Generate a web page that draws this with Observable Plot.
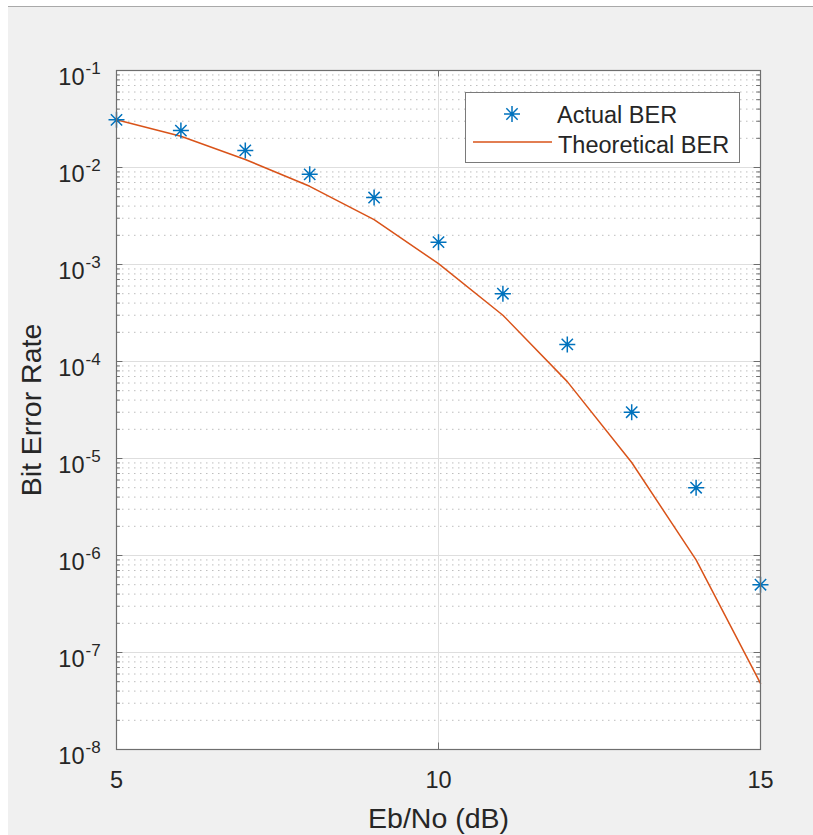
<!DOCTYPE html>
<html>
<head>
<meta charset="utf-8">
<script src="https://cdn.jsdelivr.net/npm/d3@7"></script>
<script src="https://cdn.jsdelivr.net/npm/@observablehq/plot@0.6"></script>
<style>
  html, body { margin: 0; padding: 0; background: #ffffff; width: 813px; height: 835px; overflow: hidden; }
  #bg { position: absolute; left: 8px; top: 6px; right: 0; bottom: 0; background: #f0f0f0; border-top: 1px solid #a9a9a9; }
  #chart { position: absolute; left: 0; top: 0; }
  #legend { position: absolute; left: 465px; top: 92px; }
  text { font-family: "Liberation Sans", Arial, Helvetica, sans-serif; }
</style>
</head>
<body>
<div id="bg"></div>
<div id="chart"></div>
<div id="legend"></div>
<script>
// ---- data ----
const ebno = [5, 6, 7, 8, 9, 10, 11, 12, 13, 14, 15];
const actualBER = [0.031, 0.024, 0.015, 0.0085, 0.0049, 0.0017, 5.0e-4, 1.5e-4, 3.0e-5, 5.0e-6, 5.0e-7];
const theoreticalBER = [0.031, 0.021, 0.0121, 0.0064, 0.0029, 1.02e-3, 3.0e-4, 6.2e-5, 9.1e-6, 9.0e-7, 4.8e-8];
const xTicks = [5, 10, 15];
const yExponents = [-8, -7, -6, -5, -4, -3, -2, -1];
const seriesNames = ["Actual BER", "Theoretical BER"];
const xLabel = "Eb/No (dB)";
const yLabel = "Bit Error Rate";

const blue = "#0072BD";
const orange = "#D95319";
const axisColor = "#6e6e6e";
const textColor = "#262626";
const font = '"Liberation Sans", Arial, Helvetica, sans-serif';

const decades = yExponents.map(e => Math.pow(10, e));
const minors = [];
for (const e of yExponents.slice(0, -1)) for (let k = 2; k <= 9; k++) minors.push(k * Math.pow(10, e));

const actualRows = ebno.map((x, i) => ({x, y: actualBER[i]}));
const theoRows = ebno.map((x, i) => ({x, y: theoreticalBER[i]}));

// MATLAB-style '*' marker (plus + cross)
const star8 = {
  draw(ctx, size) {
    const r = Math.sqrt(size / Math.PI);
    const d = r * Math.SQRT1_2;
    ctx.moveTo(-r, 0); ctx.lineTo(r, 0);
    ctx.moveTo(0, -r); ctx.lineTo(0, r);
    ctx.moveTo(-d, -d); ctx.lineTo(d, d);
    ctx.moveTo(-d, d); ctx.lineTo(d, -d);
  }
};

const xMin = 5, xMax = 15, yMin = 1e-8, yMax = 1e-1;
const majLen = 0.1, minLen = 0.06;           // tick lengths in x units
const xTickDec = 0.067;                       // x tick length in decades

const chart = Plot.plot({
  width: 813,
  height: 835,
  marginLeft: 116,
  marginRight: 53,
  marginTop: 70,
  marginBottom: 86,
  style: {background: "transparent", fontFamily: font, overflow: "visible"},
  x: {domain: [xMin, xMax], axis: null},
  y: {type: "log", domain: [yMin, yMax], axis: null},
  marks: [
    Plot.frame({fill: "white", stroke: "none"}),
    // minor dotted grid
    Plot.ruleY(minors, {y: d => d, stroke: "#bdbdbd", strokeWidth: 1, strokeDasharray: "1.5,4.5"}),
    // major grid
    Plot.ruleY(decades.slice(1, -1), {y: d => d, stroke: "#dedede", strokeWidth: 1}),
    Plot.ruleX(xTicks.slice(1, -1), {x: d => d, stroke: "#dedede", strokeWidth: 1}),
    // y ticks left/right (inward)
    Plot.ruleY(decades, {y: d => d, x1: xMin, x2: xMin + majLen, stroke: axisColor}),
    Plot.ruleY(decades, {y: d => d, x1: xMax - majLen, x2: xMax, stroke: axisColor}),
    Plot.ruleY(minors, {y: d => d, x1: xMin, x2: xMin + minLen, stroke: axisColor}),
    Plot.ruleY(minors, {y: d => d, x1: xMax - minLen, x2: xMax, stroke: axisColor}),
    // x ticks bottom/top (inward)
    Plot.ruleX(xTicks, {x: d => d, y1: yMin, y2: yMin * Math.pow(10, xTickDec), stroke: axisColor}),
    Plot.ruleX(xTicks, {x: d => d, y1: yMax, y2: yMax / Math.pow(10, xTickDec), stroke: axisColor}),
    // data
    Plot.line(theoRows, {x: "x", y: "y", stroke: orange, strokeWidth: 1.5}),
    Plot.dot(actualRows, {x: "x", y: "y", symbol: star8, r: 8, stroke: blue, strokeWidth: 1.5, fill: "none"}),
    // axes box
    Plot.frame({stroke: axisColor, strokeWidth: 1.2}),
    // y tick labels 10^e
    Plot.text(decades, {y: d => d, frameAnchor: "left", text: () => "10", textAnchor: "end", lineAnchor: "middle",
      dx: -32, dy: 7, fontSize: 23.5, fill: textColor}),
    Plot.text(decades, {y: d => d, frameAnchor: "left", text: d => String(Math.round(Math.log10(d))), textAnchor: "start", lineAnchor: "middle",
      dx: -31, dy: -2, fontSize: 17, fill: textColor}),
    // x tick labels
    Plot.text(xTicks, {x: d => d, frameAnchor: "bottom", text: d => String(d), textAnchor: "middle", lineAnchor: "middle",
      dy: 31, fontSize: 23.5, fill: textColor}),
    // axis labels
    Plot.text([xLabel], {frameAnchor: "bottom", text: d => d, textAnchor: "middle", lineAnchor: "middle",
      dy: 69, fontSize: 28.5, fill: textColor}),
    Plot.text([yLabel], {frameAnchor: "left", text: d => d, textAnchor: "middle", lineAnchor: "middle", rotate: -90,
      dx: -85, fontSize: 28.5, fill: textColor})
  ]
});
document.getElementById("chart").appendChild(chart);

// ---- legend ----
const lw = 275, lh = 71;
const leg = d3.select("#legend").append("svg").attr("width", lw).attr("height", lh);
leg.append("rect").attr("x", 0.5).attr("y", 0.5).attr("width", lw - 1).attr("height", lh - 1)
  .attr("fill", "white").attr("stroke", "#7a7a7a").attr("stroke-width", 1);
const sp = d3.path(); star8.draw(sp, 8 * 8 * Math.PI);
leg.append("path").attr("d", sp.toString()).attr("transform", "translate(47,22)")
  .attr("fill", "none").attr("stroke", blue).attr("stroke-width", 1.5);
leg.append("line").attr("x1", 8).attr("x2", 87).attr("y1", 50).attr("y2", 50)
  .attr("stroke", orange).attr("stroke-width", 1.5);
leg.append("text").attr("x", 92).attr("y", 31).attr("font-size", 23.5).attr("fill", textColor)
  .style("font-family", font).text(seriesNames[0]);
leg.append("text").attr("x", 93).attr("y", 61).attr("font-size", 23.5).attr("fill", textColor)
  .style("font-family", font).text(seriesNames[1]);
</script>
</body>
</html>
